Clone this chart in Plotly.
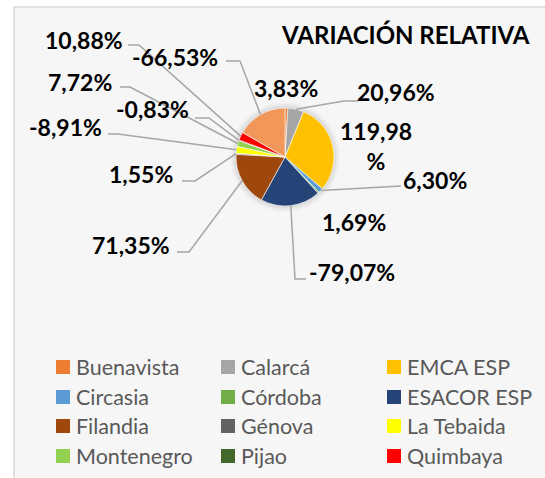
import numpy as np
import plotly.graph_objects as go

W, H = 545, 478

# ---- data ----
categories = ["Buenavista", "Calarcá", "EMCA ESP", "Circasia", "Córdoba", "ESACOR ESP",
              "Filandia", "Génova", "La Tebaida", "Montenegro", "Pijao", "Quimbaya", "Salento"]
variation = [3.83, 20.96, 119.98, 6.30, 1.69, -79.07,
             71.35, 1.55, -8.91, 7.72, -0.83, 10.88, -66.53]
legend_categories = categories[:12]

# ---- styles ----
colors = ["#ED7D31", "#A5A5A5", "#FFC000", "#5B9BD5", "#70AD47", "#264478",
          "#9E480E", "#636363", "#FFFF00", "#92D050", "#43682B", "#FF0000", "#F1975A"]

# label layout (pixel positions): label center, leader start points (None = no leader)
label_pos = [(286, 88), (396, 92), (376, 146), (435, 180), (354, 222), (352, 272),
             (131, 245), (141, 174), (65, 127), (80, 82), (152, 109), (84, 40), (175, 57)]
leader_pts = [None, [(358, 101), (344, 101)], None, [(401, 186)], None, [(306, 279), (295, 279)],
              [(177, 252), (189, 252)], [(182, 181), (195, 181)], [(108, 134), (118, 134)],
              [(120, 87), (130, 87)], [(195, 118), (209, 118)], [(128, 45), (139, 45)],
              [(226, 61), (240, 61)]]

CX, CY, R = 285, 157, 49


def px(x):
    return x / W


def py(y):
    return 1 - y / H


def fmt(v):
    s = f"{v:.2f}".replace(".", ",") + "%"
    return s


values = [abs(v) for v in variation]

fig = go.Figure()
fig.add_trace(go.Pie(
    labels=categories, values=values, sort=False, direction="clockwise", rotation=0,
    marker=dict(colors=colors, line=dict(color="white", width=0.6)),
    textinfo="none", hoverinfo="label+value", showlegend=False,
    domain=dict(x=[px(CX - R), px(CX + R)], y=[py(CY + R), py(CY - R)]),
))

shapes = []
annotations = []

# chart area background + border
shapes.append(dict(type="rect", xref="paper", yref="paper", x0=px(14), x1=px(W + 20), y0=py(H + 20), y1=py(7),
                   fillcolor="#F6F6F6", line=dict(color="#D9D9D9", width=1.5), layer="below"))
# soft shadow around the pie
for rr, op in [(R + 6, 0.025), (R + 4, 0.035), (R + 2, 0.05)]:
    shapes.append(dict(type="circle", xref="paper", yref="paper",
                       x0=px(CX - rr), x1=px(CX + rr), y0=py(CY + rr), y1=py(CY - rr),
                       fillcolor=f"rgba(0,0,0,{op})", line=dict(width=0), layer="below"))

# slice mid angles from data
tot = sum(values)
cum = np.cumsum([0] + values)
for i, v in enumerate(variation):
    mid = (cum[i] + values[i] / 2) / tot * 2 * np.pi
    ex = CX + R * np.sin(mid)
    ey = CY - R * np.cos(mid)
    if leader_pts[i] is not None:
        pts = leader_pts[i] + [(ex, ey)]
        path = "M " + " L ".join(f"{px(x):.5f},{py(y):.5f}" for x, y in pts)
        shapes.append(dict(type="path", xref="paper", yref="paper", path=path,
                           line=dict(color="#A6A6A6", width=1.5)))
    txt = fmt(v)
    if categories[i] == "EMCA ESP":
        txt = txt[:-1] + "<br>%"
    lx, ly = label_pos[i]
    annotations.append(dict(x=px(lx), y=py(ly), xref="paper", yref="paper", text=txt, showarrow=False,
                            xanchor="center", yanchor="middle",
                            font=dict(family="Lato", size=23, color="black", weight="bold")))

# title
annotations.append(dict(x=px(279), y=py(34), xref="paper", yref="paper", text="<b>VARIACIÓN RELATIVA</b>",
                        showarrow=False, xanchor="left", yanchor="middle",
                        font=dict(family="Lato", size=24, color="black")))

# legend (3 columns)
col_x = [56, 221, 387]
row_y = [367, 397, 426, 456]
for k, name in enumerate(legend_categories):
    r, c = divmod(k, 3)
    mx, my = col_x[c], row_y[r]
    shapes.append(dict(type="rect", xref="paper", yref="paper", x0=px(mx), x1=px(mx + 14),
                       y0=py(my + 7), y1=py(my - 7), fillcolor=colors[k], line=dict(width=0)))
    annotations.append(dict(x=px(mx + 18), y=py(my), xref="paper", yref="paper", text=name, showarrow=False,
                            xanchor="left", yanchor="middle",
                            font=dict(family="Lato", size=21.5, color="#595959")))

fig.update_layout(width=W, height=H, margin=dict(l=0, r=0, t=0, b=0),
                  paper_bgcolor="white", plot_bgcolor="white",
                  shapes=shapes, annotations=annotations)
fig.write_html("out.html", config={"displayModeBar": False},
               post_script="document.body.style.margin='0';document.body.style.overflow='hidden';")
